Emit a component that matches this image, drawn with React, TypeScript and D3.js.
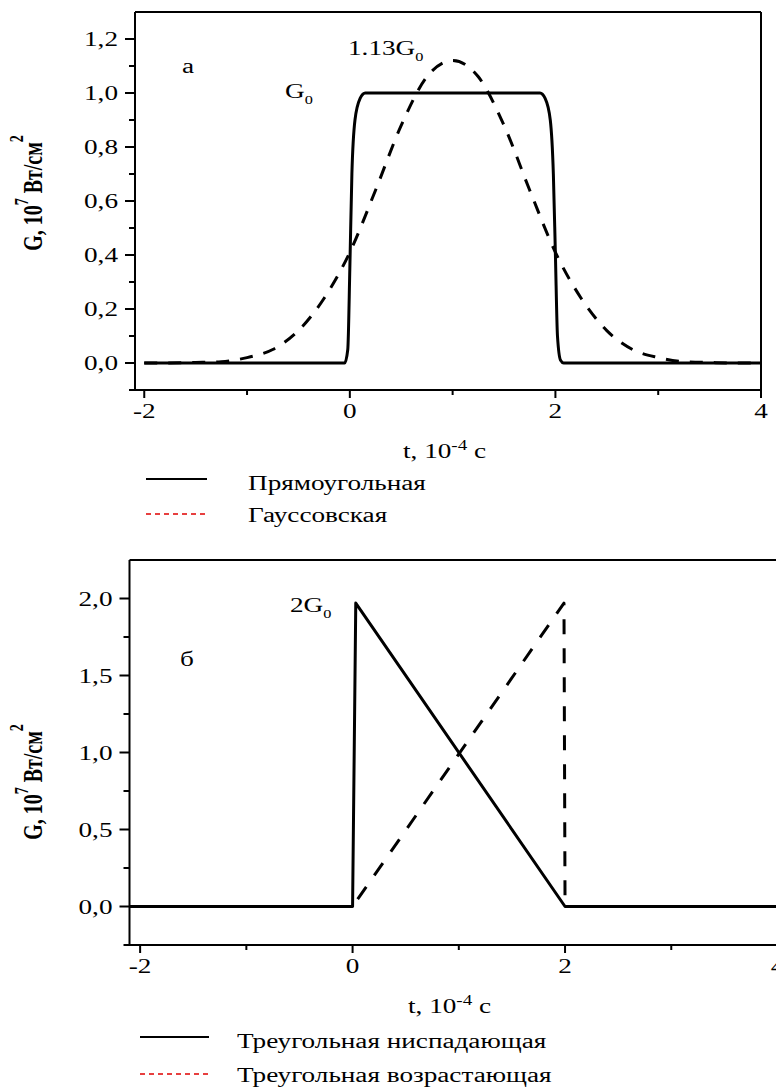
import React from "react";
import * as d3 from "d3";

const W = 776;
const H = 1089;
const SX = 1.36; // the reference glyphs are stretched horizontally
const FONT = "'Liberation Serif', 'Times New Roman', serif";

// panel a: rectangular and gaussian pulses
const rectT = [-2, -0.05, -0.02, 0, 0.02, 0.05, 0.1, 0.15, 1.85, 1.9, 1.95, 1.98, 2.0, 2.02, 2.05, 2.08, 4];
const rectG = [0, 0, 0.05, 0.35, 0.7, 0.9, 0.98, 1.0, 1.0, 0.98, 0.9, 0.7, 0.4, 0.1, 0.01, 0, 0];
const gaussT = [-2, -1.75, -1.5, -1.25, -1, -0.75, -0.5, -0.25, 0, 0.25, 0.5, 0.75, 1, 1.25, 1.5, 1.75, 2, 2.25, 2.5, 2.75, 3, 3.25, 3.5, 3.75, 4];
const gaussG = [0, 0, 0.002, 0.005, 0.02, 0.05, 0.12, 0.24, 0.41, 0.64, 0.88, 1.06, 1.12, 1.06, 0.88, 0.64, 0.41, 0.24, 0.12, 0.05, 0.02, 0.005, 0.002, 0, 0];

// panel b: triangular pulses
const downT = [-2.1, 0, 0.03, 2, 4];
const downG = [0, 0, 1.97, 0, 0];
const upT = [-2.1, 0, 1.99, 2.0, 4];
const upG = [0, 0, 1.97, 0, 0];

const xTicks = [-2, 0, 2, 4];
const xMinor = [-1, 1, 3];
const yTicksA = [0, 0.2, 0.4, 0.6, 0.8, 1.0, 1.2];
const yLabelsA = ["0,0", "0,2", "0,4", "0,6", "0,8", "1,0", "1,2"];
const yMinorA = [-0.1, 0.1, 0.3, 0.5, 0.7, 0.9, 1.1];
const yTicksB = [0, 0.5, 1.0, 1.5, 2.0];
const yLabelsB = ["0,0", "0,5", "1,0", "1,5", "2,0"];
const yMinorB = [-0.25, 0.25, 0.75, 1.25, 1.75];

const legendA = ["Прямоугольная", "Гауссовская"];
const legendB = ["Треугольная ниспадающая", "Треугольная возрастающая"];

const T = ({ x, y, anchor = "start", size = 20, rotate = 0, weight = "normal", children }: any) => (
  <text
    transform={`translate(${x},${y}) scale(${SX},1)${rotate ? ` rotate(${rotate})` : ""}`}
    textAnchor={anchor}
    fontFamily={FONT}
    fontSize={size}
    fontWeight={weight}
    fill="#000"
  >
    {children}
  </text>
);

const Panel = ({ xs, ys, yTicks, yLabels, yMinor, rightBorder, labelY, letter, letterPos, xLabelPos, curves, legend, legendPos }: any) => {
  const [x0, x1] = xs.range();
  const [y0, y1] = ys.range();
  return (
    <g>
      {curves.map((c: any, i: number) => {
        const line = d3
          .line<number>()
          .x((t) => xs(t))
          .y((_, j) => ys(c.g[j]))
          .curve(c.smooth ? d3.curveMonotoneX : d3.curveLinear);
        return (
          <path
            key={i}
            d={line(c.t) || ""}
            fill="none"
            stroke="#000"
            strokeWidth={3}
            strokeDasharray={c.dash || null}
            strokeLinejoin="round"
          />
        );
      })}
      {/* frame */}
      <line x1={x0} x2={x0} y1={y0 + 1} y2={y1} stroke="#000" strokeWidth={2} />
      <line x1={x0} x2={x1} y1={y0} y2={y0} stroke="#000" strokeWidth={2} />
      <line x1={x0} x2={x1} y1={y1} y2={y1} stroke="#000" strokeWidth={2} />
      {rightBorder && <line x1={x1} x2={x1} y1={y0} y2={y1} stroke="#000" strokeWidth={2} />}
      {xTicks.map((t) => (
        <g key={t}>
          <line x1={xs(t)} x2={xs(t)} y1={y0} y2={y0 + 8} stroke="#000" strokeWidth={2} />
          <T x={xs(t)} y={y0 + 28} anchor="middle">
            {t < 0 ? `-${-t}` : t}
          </T>
        </g>
      ))}
      {xMinor.map((t) => (
        <line key={t} x1={xs(t)} x2={xs(t)} y1={y0} y2={y0 + 5} stroke="#000" strokeWidth={2} />
      ))}
      {yTicks.map((v: number, i: number) => (
        <g key={v}>
          <line x1={x0 - 10} x2={x0} y1={ys(v)} y2={ys(v)} stroke="#000" strokeWidth={2} />
          <T x={x0 - 17} y={ys(v) + 7} anchor="end">
            {yLabels[i]}
          </T>
        </g>
      ))}
      {yMinor.map((v: number) => (
        <line key={v} x1={x0 - 6} x2={x0} y1={ys(v)} y2={ys(v)} stroke="#000" strokeWidth={2} />
      ))}
      {/* y title */}
      <T x={42} y={labelY} anchor="middle" rotate={-90} weight="bold">
        G, 10<tspan dy={-10} fontSize={14}>7</tspan>
        <tspan dy={10}> Вт/см</tspan>
        <tspan dy={-14} fontSize={14}>2</tspan>
      </T>
      {/* x title */}
      <T x={xLabelPos[0]} y={xLabelPos[1]}>
        t, 10<tspan dy={-8} fontSize={14}>-4</tspan>
        <tspan dy={8}> c</tspan>
      </T>
      <T x={letterPos[0]} y={letterPos[1]}>
        {letter}
      </T>
      {/* legend */}
      <line x1={legendPos[0]} x2={legendPos[1]} y1={legendPos[3]} y2={legendPos[3]} stroke="#000" strokeWidth={2} />
      <line x1={legendPos[0]} x2={legendPos[1]} y1={legendPos[4]} y2={legendPos[4]} stroke="#e00000" strokeWidth={1.5} strokeDasharray="5,4" />
      <T x={legendPos[2]} y={legendPos[3] + 11}>
        {legend[0]}
      </T>
      <T x={legendPos[2]} y={legendPos[4] + 8}>
        {legend[1]}
      </T>
    </g>
  );
};

const App = () => {
  const xA = d3.scaleLinear().domain([-2.09, 4]).range([135, 761]);
  const yA = d3.scaleLinear().domain([-0.1, 1.3]).range([390, 12]);
  const xB = d3.scaleLinear().domain([-2.1, 4]).range([129.5, 777.5]);
  const yB = d3.scaleLinear().domain([-0.25, 2.25]).range([945, 560]);

  return (
    <svg width={W} height={H} style={{ position: "absolute", left: 0, top: 0, background: "#fff" }}>
      <Panel
        xs={xA}
        ys={yA}
        yTicks={yTicksA}
        yLabels={yLabelsA}
        yMinor={yMinorA}
        rightBorder
        labelY={193}
        letter="а"
        letterPos={[182, 73]}
        xLabelPos={[403, 458]}
        legend={legendA}
        legendPos={[146, 207, 248, 479, 514]}
        curves={[
          { t: gaussT, g: gaussG, smooth: true, dash: "13,11" },
          { t: rectT, g: rectG, smooth: true },
        ]}
      />
      <T x={348} y={55}>
        1.13G<tspan dy={6} fontSize={12}>0</tspan>
      </T>
      <T x={285} y={98}>
        G<tspan dy={6} fontSize={12}>0</tspan>
      </T>
      <Panel
        xs={xB}
        ys={yB}
        yTicks={yTicksB}
        yLabels={yLabelsB}
        yMinor={yMinorB}
        rightBorder={false}
        labelY={782}
        letter="б"
        letterPos={[180, 666]}
        xLabelPos={[408, 1013]}
        legend={legendB}
        legendPos={[140, 209, 237, 1037, 1074]}
        curves={[
          { t: upT, g: upG, dash: "15,14" },
          { t: downT, g: downG },
        ]}
      />
      <T x={290} y={612}>
        2G<tspan dy={6} fontSize={12}>0</tspan>
      </T>
    </svg>
  );
};

export default App;
